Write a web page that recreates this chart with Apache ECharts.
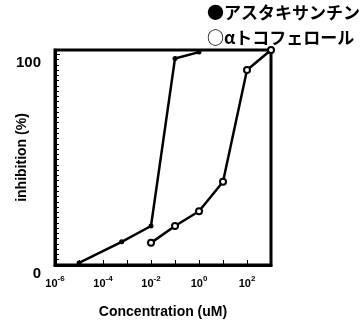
<!DOCTYPE html>
<html>
<head>
<meta charset="utf-8">
<script src="https://cdn.jsdelivr.net/npm/echarts@6/dist/echarts.min.js"></script>
<style>
  html, body { margin: 0; padding: 0; background: #fff; }
  #chart { width: 364px; height: 326px; }
</style>
</head>
<body>
<div id="chart"></div>
<script>
  // 濃度 (uM)
  var astaConc = [1e-5, 6e-4, 1e-2, 1e-1, 1];
  var astaVal = [1, 11, 18.5, 98, 101];
  var tocoConc = [1e-2, 1e-1, 1, 10, 100, 1000];
  var tocoVal = [10.5, 18.5, 25.5, 39.5, 92.5, 102];
  var seriesNames = ['アスタキサンチン', 'αトコフェロール'];
  var yTicks = [0, 100];

  var myChart = echarts.init(document.getElementById('chart'));

  function pairs(xs, ys) {
    return xs.map(function (x, i) { return [x, ys[i]]; });
  }

  var boldFont = '"Liberation Sans", Arial, sans-serif';
  var jpFont = '"Noto Sans CJK JP", sans-serif';

  var option = {
    animation: false,
    grid: {
      left: 55,
      right: 93,
      top: 50,
      bottom: 61,
      outerBoundsMode: 'none',
      containLabel: false,
      show: true,
      borderColor: '#000',
      borderWidth: 3
    },
    graphic: [
      {
        type: 'text', left: 207, top: 4,
        style: { text: '●' + seriesNames[0], font: 'bold 17px ' + jpFont, fill: '#000' }
      },
      {
        type: 'text', left: 207, top: 29,
        style: { text: '○' + seriesNames[1], font: 'bold 17px ' + jpFont, fill: '#000' }
      }
    ],
    xAxis: {
      type: 'log',
      logBase: 10,
      min: 1e-6,
      max: 1e3,
      interval: 1,
      name: 'Concentration (uM)',
      nameLocation: 'middle',
      nameGap: 40,
      nameMoveOverlap: false,
      nameTextStyle: { fontFamily: boldFont, fontWeight: 'bold', fontSize: 14, color: '#000' },
      axisLine: { lineStyle: { color: '#000', width: 3 } },
      axisTick: { inside: true, length: 5, lineStyle: { color: '#000', width: 1 } },
      splitLine: { show: false },
      axisLabel: {
        margin: 10,
        color: '#000',
        fontFamily: boldFont,
        fontWeight: 'bold',
        fontSize: 11,
        formatter: function (v) {
          var e = Math.round(Math.log10(v));
          if (e % 2 !== 0) return '';
          return '{b|10}{s|' + e + '}';
        },
        rich: {
          b: { fontSize: 11, fontFamily: boldFont, fontWeight: 'bold', color: '#000', verticalAlign: 'bottom', lineHeight: 14 },
          s: { fontSize: 8, fontFamily: boldFont, fontWeight: 'bold', color: '#000', verticalAlign: 'top', lineHeight: 14, padding: [0, 0, 4, 0] }
        }
      }
    },
    yAxis: {
      type: 'value',
      min: 0,
      max: 102,
      interval: 100,
      name: 'inhibition (%)',
      nameLocation: 'middle',
      nameGap: 26,
      nameMoveOverlap: false,
      nameTextStyle: { fontFamily: boldFont, fontWeight: 'bold', fontSize: 14, color: '#000' },
      axisLine: { show: true, lineStyle: { color: '#000', width: 3 } },
      axisTick: { show: true, inside: true, length: 5, lineStyle: { color: '#000', width: 1 } },
      minorTick: { show: true, splitNumber: 40, length: 4, lineStyle: { color: '#000', width: 1 } },
      splitLine: { show: false },
      axisLabel: {
        margin: 14,
        color: '#000',
        fontFamily: boldFont,
        fontWeight: 'bold',
        fontSize: 15,
        verticalAlign: 'top',
        padding: [1, 0, 0, 0],
        formatter: function (v) { return yTicks.indexOf(v) >= 0 ? String(v) : ''; }
      }
    },
    series: [
      {
        name: seriesNames[0],
        type: 'line',
        data: pairs(astaConc, astaVal),
        symbol: 'circle',
        symbolSize: 5,
        lineStyle: { color: '#000', width: 2.5 },
        itemStyle: { color: '#000' }
      },
      {
        name: seriesNames[1],
        type: 'line',
        data: pairs(tocoConc, tocoVal),
        symbol: 'emptyCircle',
        symbolSize: 6,
        lineStyle: { color: '#000', width: 2.5 },
        itemStyle: { color: '#000', borderColor: '#000', borderWidth: 2 }
      }
    ]
  };

  myChart.setOption(option);
</script>
</body>
</html>
